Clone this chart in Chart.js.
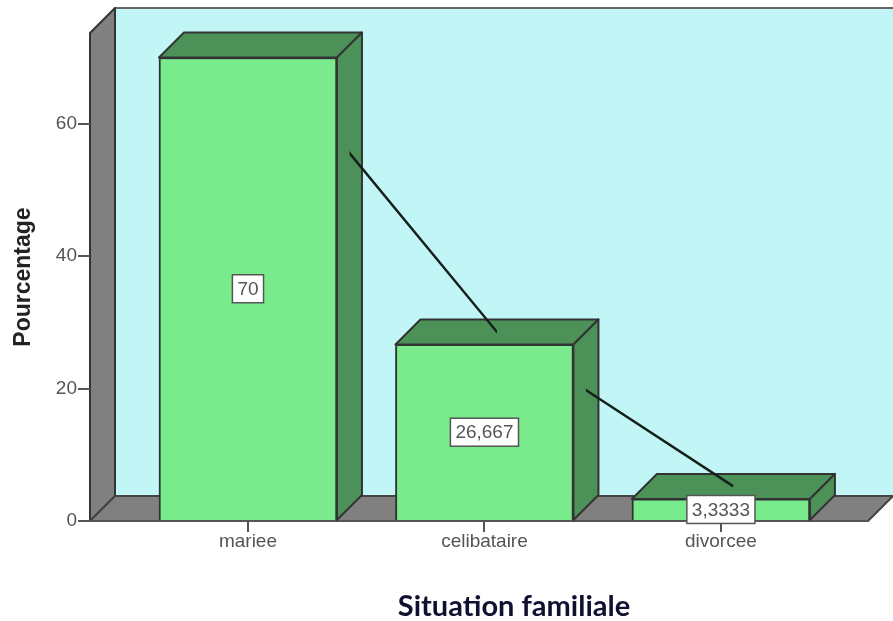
<!DOCTYPE html>
<html lang="fr">
<head>
<meta charset="utf-8">
<title>Situation familiale</title>
<script src="https://cdn.jsdelivr.net/npm/chart.js@4"></script>
<style>
    html, body { margin: 0; padding: 0; background: #fff; }
    canvas { display: block; }
</style>
</head>
<body>
<canvas id="situationChart" width="893" height="621"></canvas>
<script>
const categories = ['mariee', 'celibataire', 'divorcee'];
const pourcentages = [70, 26.667, 3.3333];
const yTicks = [0, 20, 40, 60];

const xTitle = 'Situation familiale';
const yTitle = 'Pourcentage';

// Profondeur de l'effet 3D, en pixels
const DEPTH = 25;
const OUTLINE = '#333';

function polygon(ctx, points, fill, stroke, lineWidth) {
    ctx.beginPath();
    points.forEach(([x, y], i) => (i ? ctx.lineTo(x, y) : ctx.moveTo(x, y)));
    ctx.closePath();
    ctx.fillStyle = fill;
    ctx.fill();
    ctx.strokeStyle = stroke;
    ctx.lineWidth = lineWidth;
    ctx.lineJoin = 'round';
    ctx.stroke();
}

// Murs et sol de la boite 3D, derriere les axes et les barres
const roomPlugin = {
    id: 'room',
    beforeDraw(chart) {
        const { ctx, chartArea: a } = chart;
        const d = DEPTH;
        ctx.save();
        polygon(ctx, [[a.left + d, a.top - d], [a.right + d + 6, a.top - d], [a.right + d + 6, a.bottom - d], [a.left + d, a.bottom - d]], '#c1f5f6', '#666', 2);
        polygon(ctx, [[a.left, a.top], [a.left + d, a.top - d], [a.left + d, a.bottom - d], [a.left, a.bottom]], '#808080', OUTLINE, 2);
        polygon(ctx, [[a.left, a.bottom], [a.left + d, a.bottom - d], [a.right + d, a.bottom - d], [a.right, a.bottom]], '#808080', '#444', 2);
        ctx.restore();
    }
};

// Faces du dessus et de cote des barres
const barFacesPlugin = {
    id: 'barFaces',
    beforeDatasetDraw(chart, args) {
        const { ctx } = chart;
        const d = DEPTH;
        if (args.meta.type === 'bar') {
            ctx.save();
            args.meta.data.forEach(bar => {
                const l = bar.x - bar.width / 2;
                const r = bar.x + bar.width / 2;
                polygon(ctx, [[l, bar.y], [l + d, bar.y - d], [r + d, bar.y - d], [r, bar.y]], '#4c9158', OUTLINE, 2);
                polygon(ctx, [[r, bar.y], [r + d, bar.y - d], [r + d, bar.base - d], [r, bar.base]], '#4c9158', OUTLINE, 2);
            });
            ctx.restore();
        }
        if (args.meta.type === 'line') {
            // La ligne passe au milieu de la profondeur et sort du cote de chaque barre
            const bars = chart.getDatasetMeta(0).data;
            ctx.save();
            ctx.beginPath();
            for (let i = 0; i < bars.length - 1; i++) {
                const from = bars[i].x + bars[i].width / 2 + d / 2;
                const to = bars[i + 1].x + d / 2;
                ctx.rect(from, 0, to - from, chart.height);
            }
            ctx.clip();
            ctx.translate(d / 2, -d / 2);
        }
    },
    afterDatasetDraw(chart, args) {
        if (args.meta.type === 'line') chart.ctx.restore();
    }
};

// Etiquettes de valeur et titre de l'axe horizontal
const labelsPlugin = {
    id: 'valueLabels',
    afterDraw(chart) {
        const { ctx } = chart;
        ctx.save();
        ctx.textAlign = 'center';
        ctx.textBaseline = 'middle';
        chart.getDatasetMeta(0).data.forEach((bar, i) => {
            const text = String(pourcentages[i]).replace('.', ',');
            ctx.font = '19px "Liberation Sans"';
            const w = ctx.measureText(text).width + 10;
            const h = 28;
            const cy = (bar.y + bar.base) / 2;
            ctx.fillStyle = '#fff';
            ctx.strokeStyle = '#555';
            ctx.lineWidth = 1.5;
            ctx.fillRect(bar.x - w / 2, cy - h / 2, w, h);
            ctx.strokeRect(bar.x - w / 2, cy - h / 2, w, h);
            ctx.fillStyle = '#555';
            ctx.fillText(text, bar.x, cy + 1);
        });
        ctx.font = 'bold 29px Lato';
        ctx.fillStyle = '#101030';
        ctx.fillText(xTitle, 514, 607);
        ctx.restore();
    }
};

new Chart(document.getElementById('situationChart'), {
    type: 'bar',
    data: {
        datasets: [
            {
                type: 'bar',
                order: 2,
                data: pourcentages.map((v, i) => ({ x: i, y: v })),
                backgroundColor: '#7aeb8c',
                borderColor: OUTLINE,
                borderWidth: 2,
                barThickness: 178
            },
            {
                type: 'line',
                order: 1,
                data: pourcentages.map((v, i) => ({ x: i, y: v })),
                borderColor: '#15201a',
                borderWidth: 2.5,
                pointRadius: 0,
                tension: 0,
                clip: false
            }
        ]
    },
    options: {
        responsive: false,
        animation: false,
        layout: { padding: { top: 33, right: 25, left: 0, bottom: 0 } },
        plugins: { legend: { display: false }, tooltip: { enabled: false } },
        scales: {
            x: {
                type: 'linear',
                offset: false,
                min: -0.668,
                max: 2.622,
                afterBuildTicks: scale => { scale.ticks = categories.map((_, i) => ({ value: i })); },
                afterFit: scale => { scale.height = 100; },
                border: { display: true, color: '#555', width: 2 },
                grid: { offset: false, drawOnChartArea: false, drawTicks: true, tickLength: 11, color: '#555', lineWidth: 2 },
                ticks: {
                    callback: value => categories[value],
                    color: '#555',
                    font: { family: '"Liberation Sans"', size: 19 },
                    padding: -2,
                    maxRotation: 0,
                    autoSkip: false
                }
            },
            y: {
                min: 0,
                max: 73.7,
                afterBuildTicks: scale => { scale.ticks = yTicks.map(value => ({ value })); },
                afterFit: scale => { scale.width = 90; },
                border: { display: false },
                grid: { drawOnChartArea: false, drawTicks: true, tickLength: 12, color: '#555', lineWidth: 2 },
                ticks: {
                    color: '#555',
                    font: { family: '"Liberation Sans"', size: 19 },
                    padding: 1
                },
                title: {
                    display: true,
                    text: yTitle,
                    color: '#222',
                    font: { family: '"Liberation Sans"', size: 23, weight: 'bold' },
                    padding: { top: 10, bottom: 0 }
                }
            }
        }
    },
    plugins: [roomPlugin, barFacesPlugin, labelsPlugin]
});
</script>
</body>
</html>
